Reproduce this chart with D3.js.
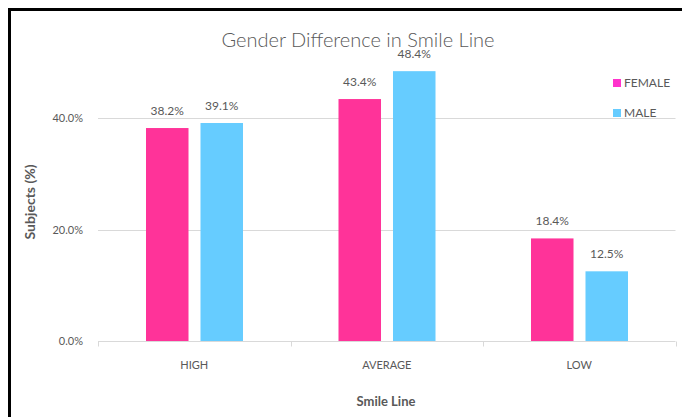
<html>
  <head>
    <meta charset="utf-8">
    <title>Gender Difference in Smile Line</title>
    <style>
    body{
      margin: 0;
      background-color: white;
    }
    text{
      font-family: Lato, "Open Sans", sans-serif;
      fill: #595959;
    }
    </style>
    <script src="https://d3js.org/d3.v7.min.js"></script>
  </head>
  <body>
    <div id="container"></div>
    <script>
    //chart data
    var categories = ["HIGH", "AVERAGE", "LOW"];
    var seriesNames = ["FEMALE", "MALE"];
    var female = [38.2, 43.4, 18.4];
    var male = [39.1, 48.4, 12.5];
    var yTicks = [0, 20, 40];

    var colors = {FEMALE: "#ff3399", MALE: "#66ccff"};
    var legendColors = {FEMALE: "#ff33cc", MALE: "#66ccff"};

    const width = 682,
          height = 417;

    //plot area (not "top", that one belongs to window)
    var plotLeft = 98, plotRight = 675.5, plotTop = 62.25, plotBottom = 341;

    var svg = d3.select("#container")
      .append("svg")
      .attr("width", width)
      .attr("height", height)
      .style("display", "block");

    //black frame round the chart
    svg.append("rect")
      .attr("x", 9.5)
      .attr("y", 9.5)
      .attr("width", 700)
      .attr("height", 450)
      .attr("fill", "white")
      .attr("stroke", "black")
      .attr("stroke-width", 3);

    var x = d3.scaleBand()
      .domain(categories)
      .range([plotLeft, plotRight]);

    //inner scale for the two bars in a group
    var xInner = d3.scaleBand()
      .domain(seriesNames)
      .range([48, x.bandwidth() - 47.5])
      .paddingInner(0.22);

    var y = d3.scaleLinear()
      .domain([0, 50])
      .range([plotBottom, plotTop]);

    //gridlines
    svg.append("g")
      .selectAll("line")
      .data(yTicks.filter(function(d) { return d > 0; }))
      .enter()
      .append("line")
      .attr("x1", plotLeft)
      .attr("x2", plotRight)
      .attr("y1", function(d) { return Math.round(y(d)) + 0.5; })
      .attr("y2", function(d) { return Math.round(y(d)) + 0.5; })
      .attr("stroke", "#d9d9d9")
      .attr("stroke-width", 1);

    //y axis labels
    var yAxis = d3.axisLeft(y)
      .tickValues(yTicks)
      .tickSize(0)
      .tickPadding(15)
      .tickFormat(function(d) { return d.toFixed(1) + "%"; });

    var yG = svg.append("g")
      .attr("transform", "translate(" + plotLeft + ",0)")
      .call(yAxis);
    yG.select(".domain").remove();
    yG.selectAll("text")
      .style("font-size", "11px")
      .style("font-family", "Lato, sans-serif")
      .attr("fill", "#6b6b6b");

    //rows of data per category
    var rows = categories.map(function(c, i) {
      return {cat: c, values: [
        {name: "FEMALE", value: female[i]},
        {name: "MALE", value: male[i]}
      ]};
    });

    var groups = svg.selectAll(".group")
      .data(rows)
      .enter()
      .append("g")
      .attr("class", "group")
      .attr("transform", function(d) { return "translate(" + x(d.cat) + ",0)"; });

    groups.selectAll("rect")
      .data(function(d) { return d.values; })
      .enter()
      .append("rect")
      .attr("x", function(d) { return xInner(d.name); })
      .attr("y", function(d) { return y(d.value); })
      .attr("width", xInner.bandwidth())
      .attr("height", function(d) { return plotBottom - y(d.value); })
      .attr("fill", function(d) { return colors[d.name]; });

    groups.selectAll(".label")
      .data(function(d) { return d.values; })
      .enter()
      .append("text")
      .attr("class", "label")
      .attr("x", function(d) { return xInner(d.name) + xInner.bandwidth() / 2; })
      .attr("y", function(d) { return y(d.value) - 13; })
      .attr("text-anchor", "middle")
      .style("font-size", "12px")
      .text(function(d) { return d.value.toFixed(1) + "%"; });

    //x axis
    var xAxis = d3.axisBottom(x)
      .tickSize(0)
      .tickPadding(20);

    var xG = svg.append("g")
      .attr("transform", "translate(0," + (plotBottom + 0.5) + ")")
      .call(xAxis);
    xG.select(".domain").remove();
    xG.selectAll("text")
      .style("font-size", "11px")
      .style("font-family", "Lato, sans-serif")
      .attr("fill", "#595959");

    xG.append("line")
      .attr("x1", plotLeft)
      .attr("x2", plotRight)
      .attr("stroke", "#d9d9d9");

    //tick marks at the band edges
    var edges = categories.map(function(c) { return x(c); }).concat([plotRight]);
    xG.selectAll(".edge")
      .data(edges)
      .enter()
      .append("line")
      .attr("class", "edge")
      .attr("x1", function(d) { return Math.round(d) + 0.5; })
      .attr("x2", function(d) { return Math.round(d) + 0.5; })
      .attr("y1", 0)
      .attr("y2", 5)
      .attr("stroke", "#d9d9d9");

    //title
    svg.append("text")
      .attr("x", 358)
      .attr("y", 47)
      .attr("text-anchor", "middle")
      .style("font-size", "20px")
      .style("font-weight", "300")
      .attr("fill", "#595959")
      .text("Gender Difference in Smile Line");

    //axis titles
    svg.append("text")
      .attr("x", 386)
      .attr("y", 406)
      .attr("text-anchor", "middle")
      .style("font-size", "13px")
      .style("font-weight", "bold")
      .text("Smile Line");

    svg.append("text")
      .attr("transform", "translate(35,202) rotate(-90)")
      .attr("text-anchor", "middle")
      .style("font-size", "14px")
      .style("font-weight", "bold")
      .text("Subjects (%)");

    //legend
    var legend = svg.selectAll(".legend")
      .data(seriesNames)
      .enter()
      .append("g")
      .attr("class", "legend")
      .attr("transform", function(d, i) { return "translate(613," + (79 + i * 30) + ")"; });

    legend.append("rect")
      .attr("width", 8)
      .attr("height", 8)
      .attr("fill", function(d) { return legendColors[d]; });

    legend.append("text")
      .attr("x", 11)
      .attr("y", 8)
      .style("font-size", "12px")
      .text(function(d) { return d; });
    </script>
  </body>
</html>
